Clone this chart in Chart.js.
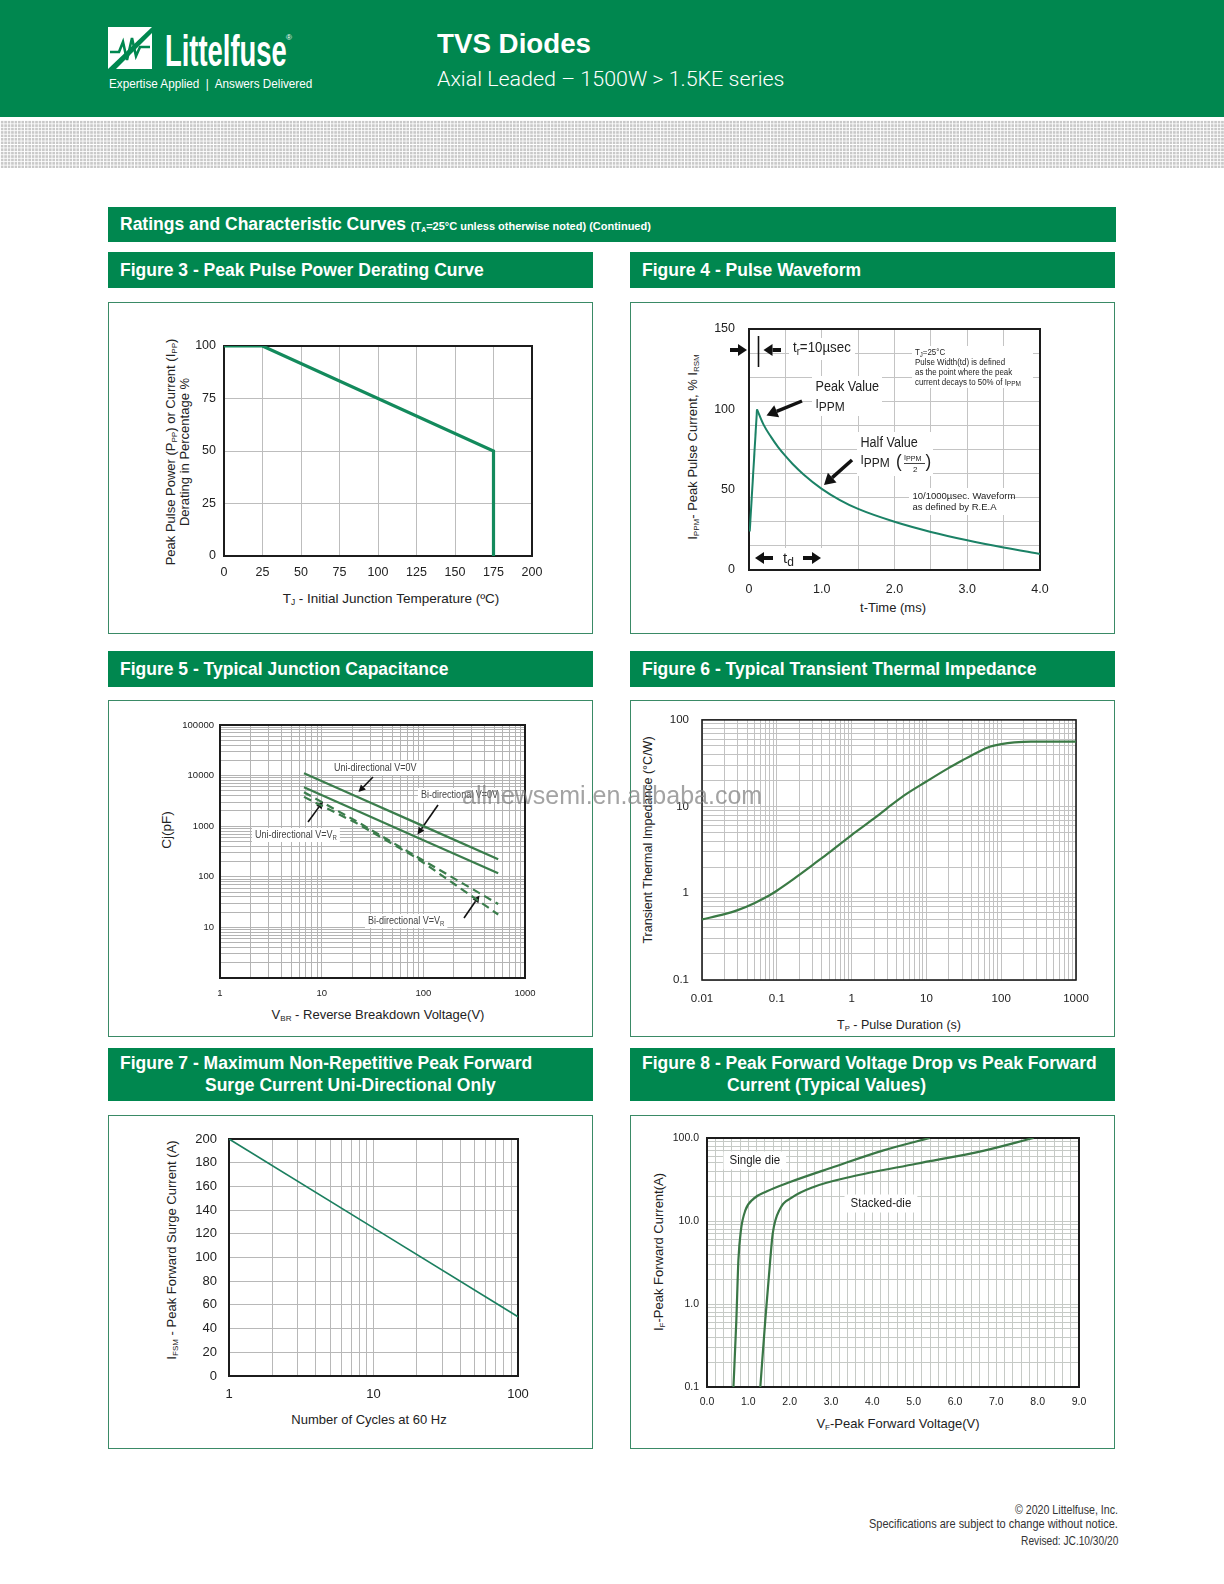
<!DOCTYPE html>
<html>
<head>
<meta charset="utf-8">
<title>TVS Diodes 1.5KE - Ratings and Characteristic Curves</title>
<script src="https://cdn.jsdelivr.net/npm/chart.js@4.4.1/dist/chart.umd.min.js"></script>
<style>
  html, body { margin: 0; padding: 0; }
  body { position: relative; width: 1224px; height: 1584px; overflow: hidden; background: #fff;
         font-family: "Liberation Sans", Arial, sans-serif; color: #222; }
  .abs { position: absolute; white-space: nowrap; }
  .fit { display: inline-block; transform-origin: 0 50%; }
  .fitr { display: inline-block; transform-origin: 100% 50%; }
  .bar { position: absolute; background: #00874f; color: #fff; font-weight: bold; font-size: 17.5px; }
  .figbox { position: absolute; border: 1px solid #3a8a66; box-sizing: border-box; }
  .ytitle { position: absolute; transform: translate(-50%, -50%) rotate(-90deg); white-space: nowrap;
            text-align: center; font-size: 13px; line-height: 14px; color: #222; }
  .xtitle { position: absolute; transform: translate(-50%, -50%); white-space: nowrap; font-size: 13px; color: #222; }
  sub { font-size: 0.62em; vertical-align: -0.3em; line-height: 0; }
  #dots { position: absolute; left: 0; top: 120px; width: 1224px; height: 48px;
          background: linear-gradient(90deg, #fff 1px, transparent 1px), linear-gradient(#fff 1px, transparent 1px), #c9c9c9;
          background-size: 3.45px 3.45px; }
  #watermark { position: absolute; left: 462px; top: 783px; font-size: 25px; line-height: 25px;
               color: rgba(128,128,128,0.72); font-family: Arial, "Liberation Sans", sans-serif; z-index: 5; }
</style>
</head>
<body>

<!-- header -->
<div class="abs" style="left:0;top:0;width:1224px;height:117px;background:#00874f;"></div>
<svg class="abs" style="left:108px;top:27px" width="44" height="42" viewBox="0 0 44 42">
  <rect x="0" y="0" width="44" height="42" fill="#fff"/>
  <path d="M44 0 L44 6 L8 42 L0 42 Z" fill="#00874f"/>
  <polyline points="2,25 11,25 15,15 19,33 24,11 28,29 32,20 42,20" fill="none" stroke="#00874f" stroke-width="2.6"/>
</svg>
<div class="abs" style="left:165px;top:28.7px;font-size:44px;line-height:44px;font-weight:bold;color:#fff;"><span class="fit" data-w="122">Littelfuse</span></div>
<div class="abs" style="left:286px;top:34px;font-size:8px;line-height:8px;color:#fff;">®</div>
<div class="abs" style="left:109px;top:77.7px;font-size:12.5px;line-height:12.5px;color:#fff;"><span class="fit" data-w="203">Expertise Applied&nbsp; |&nbsp; Answers Delivered</span></div>
<div class="abs" style="left:437px;top:31px;font-size:27px;line-height:27px;font-weight:bold;color:#fff;"><span class="fit" data-w="154">TVS Diodes</span></div>
<div class="abs" style="left:437px;top:68.8px;font-size:21px;line-height:21px;font-family:Roboto,'Liberation Sans',sans-serif;font-weight:300;color:#fff;"><span class="fit" data-w="347">Axial Leaded – 1500W &gt; 1.5KE series</span></div>
<div id="dots"></div>

<!-- section bar -->
<div class="bar" style="left:108px;top:207px;width:1008px;height:35px;line-height:35px;">
  <span style="position:absolute;left:12px;"><span style="font-size:17.5px">Ratings and Characteristic Curves</span> <span style="font-size:11px">(T<sub>A</sub>=25°C unless otherwise noted) (Continued)</span></span>
</div>

<!-- figure title bars -->
<div class="bar" style="left:108px;top:252px;width:485px;height:36px;line-height:36px;"><span style="position:absolute;left:12px;">Figure 3 - Peak Pulse Power Derating Curve</span></div>
<div class="bar" style="left:630px;top:252px;width:485px;height:36px;line-height:36px;"><span style="position:absolute;left:12px;">Figure 4 - Pulse Waveform</span></div>
<div class="bar" style="left:108px;top:651px;width:485px;height:36px;line-height:36px;"><span style="position:absolute;left:12px;">Figure 5 - Typical Junction Capacitance</span></div>
<div class="bar" style="left:630px;top:651px;width:485px;height:36px;line-height:36px;"><span style="position:absolute;left:12px;">Figure 6 - Typical Transient Thermal Impedance</span></div>
<div class="bar" style="left:108px;top:1048px;width:485px;height:53px;line-height:22px;"><span style="position:absolute;left:12px;top:4px;">Figure 7 - Maximum Non-Repetitive Peak Forward<br><span style="padding-left:85px">Surge Current Uni-Directional Only</span></span></div>
<div class="bar" style="left:630px;top:1048px;width:485px;height:53px;line-height:22px;"><span style="position:absolute;left:12px;top:4px;">Figure 8 - Peak Forward Voltage Drop vs Peak Forward<br><span style="padding-left:85px">Current (Typical Values)</span></span></div>

<!-- figure frames -->
<div class="figbox" style="left:108px;top:302px;width:485px;height:332px;"></div>
<div class="figbox" style="left:630px;top:302px;width:485px;height:332px;"></div>
<div class="figbox" style="left:108px;top:700px;width:485px;height:337px;"></div>
<div class="figbox" style="left:630px;top:700px;width:485px;height:337px;"></div>
<div class="figbox" style="left:108px;top:1115px;width:485px;height:334px;"></div>
<div class="figbox" style="left:630px;top:1115px;width:485px;height:334px;"></div>

<!-- axis titles -->
<div class="ytitle" style="left:177.5px;top:452px;">Peak Pulse Power (P<sub>PP</sub>) or Current (I<sub>PP</sub>)<br>Derating in Percentage %</div>
<div class="xtitle" style="left:391px;top:598px;font-size:13.5px;">T<sub>J</sub> - Initial Junction Temperature (ºC)</div>

<div class="ytitle" style="left:693px;top:447px;">I<sub>PPM</sub>- Peak Pulse Current, % I<sub>RSM</sub></div>
<div class="xtitle" style="left:893px;top:607px;">t-Time (ms)</div>

<div class="ytitle" style="left:167px;top:830px;font-size:13.5px;">Cj(pF)</div>
<div class="xtitle" style="left:378px;top:1014px;">V<sub>BR</sub> - Reverse Breakdown Voltage(V)</div>

<div class="ytitle" style="left:648px;top:840px;font-size:12.5px;">Transient Thermal Impedance (°C/W)</div>
<div class="xtitle" style="left:899px;top:1025px;font-size:12.5px;">T<sub>P</sub> - Pulse Duration (s)</div>

<div class="ytitle" style="left:172px;top:1250px;">I<sub>FSM</sub> - Peak Forward Surge Current (A)</div>
<div class="xtitle" style="left:369px;top:1419px;">Number of Cycles at 60 Hz</div>

<div class="ytitle" style="left:659px;top:1252px;">I<sub>F</sub>-Peak Forward Current(A)</div>
<div class="xtitle" style="left:898px;top:1423px;">V<sub>F</sub>-Peak Forward Voltage(V)</div>

<!-- footer -->
<div class="abs" style="right:106px;top:1503px;font-size:13px;line-height:13px;color:#333;"><span class="fitr" data-w="103">© 2020 Littelfuse, Inc.</span></div>
<div class="abs" style="right:106px;top:1517px;font-size:13px;line-height:13px;color:#333;"><span class="fitr" data-w="249">Specifications are subject to change without notice.</span></div>
<div class="abs" style="right:106px;top:1533.7px;font-size:13px;line-height:13px;color:#333;"><span class="fitr" data-w="97">Revised: JC.10/30/20</span></div>

<script>
// Figure 3 - peak pulse power derating
const derateTemp = [0, 25, 175, 175];
const deratePct = [100, 100, 50, 0];
const derateTempTicks = [0, 25, 50, 75, 100, 125, 150, 175, 200];
const deratePctTicks = [0, 25, 50, 75, 100];

// Figure 4 - pulse waveform (rise and decay parts)
const riseTime = [0.01, 0.11];
const risePct = [24, 100];
const decayTime = [0.11, 0.2, 0.3, 0.4, 0.5, 0.6, 0.75, 1.0, 1.25, 1.5, 2.0, 2.5, 3.0, 3.5, 4.0];
const decayPct = [100, 90.5, 83, 76.5, 71, 66, 59.5, 50.5, 43.5, 38, 30, 23.7, 18.5, 14, 10];
const pulseTimeTicks = [0, 1, 2, 3, 4];
const pulseTimeGrid = [0, 0.5, 1, 1.5, 2, 2.5, 3, 3.5, 4];
const pulsePctTicks = [0, 50, 100, 150];
const pulsePctGrid = [0, 15, 30, 45, 60, 75, 90, 105, 120, 135, 150];

// Figure 5 - junction capacitance
const vbrVolts = [6.7, 22, 86, 545];
const capUniZero = [11100, 3860, 1150, 222];
const capBiZero = [5880, 2040, 606, 117];
const capUniVr = [4700, 1250, 250, 29];
const capBiVr = [3800, 1150, 235, 18];
const vbrTicks = [1, 10, 100, 1000];
const capTicks = [10, 100, 1000, 10000, 100000];

// Figure 6 - transient thermal impedance
const pulseDur = [0.01, 0.02, 0.03, 0.05, 0.08, 0.1, 0.15, 0.2, 0.3, 0.5, 1, 2, 3, 5, 10, 20, 30, 50, 70, 100, 150, 250, 1000];
const thermZ = [0.5, 0.575, 0.64, 0.77, 0.95, 1.07, 1.36, 1.63, 2.12, 2.95, 4.7, 7.3, 9.6, 13.4, 19.5, 28, 34, 43, 49, 52.5, 55, 56.3, 56.3];
const durTicks = [0.01, 0.1, 1, 10, 100, 1000];
const zthTicks = [0.1, 1, 10, 100];

// Figure 7 - peak forward surge current
const cycles = [1, 10, 100];
const surgeAmps = [200, 125, 50];
const cycleTicks = [1, 10, 100];
const surgeTicks = [0, 20, 40, 60, 80, 100, 120, 140, 160, 180, 200];

// Figure 8 - forward voltage vs forward current
const vfSingle = [0.64, 0.71, 0.76, 0.82, 0.93, 1.13, 1.45, 2.01, 3.06, 4.27, 5.39];
const ifSingle = [0.1, 0.64, 3.4, 7.7, 13.5, 18.6, 22.8, 29.5, 44.7, 71, 100];
const vfStacked = [1.29, 1.41, 1.53, 1.59, 1.77, 2.05, 2.58, 3.46, 5.07, 6.68, 7.9];
const ifStacked = [0.1, 0.64, 3.4, 7.05, 14.1, 19.1, 25.7, 33.9, 49, 70, 100];
const vfTicks = [0, 1, 2, 3, 4, 5, 6, 7, 8, 9];
const ifTicks = [0.1, 1, 10, 100];

const FONT = "'Liberation Sans', Arial, sans-serif";
Chart.defaults.font.family = FONT;
Chart.defaults.color = '#222';

// grid positions for log axes (1..9 per decade) and plain steps
function logGrid(lo, hi) {
  const out = [];
  for (let e = Math.floor(Math.log10(lo)); e <= Math.ceil(Math.log10(hi)); e++) {
    for (let m = 1; m <= 9; m++) {
      const v = Number((m * Math.pow(10, e)).toPrecision(6));
      if (v >= lo && v <= hi) out.push(v);
    }
  }
  return out;
}
function stepGrid(lo, hi, step) {
  const out = [];
  for (let i = 0; lo + i * step <= hi + 1e-9; i++) out.push(Number((lo + i * step).toFixed(6)));
  return out;
}

function ax(o) {
  const labels = new Set(o.labels || []);
  const fmt = o.fmt || (v => String(v));
  return {
    type: o.type || 'linear',
    position: o.position,
    min: o.min, max: o.max,
    fitSize: o.fitSize,
    afterBuildTicks: s => { s.ticks = o.grid.map(v => ({ value: v })); },
    grid: { display: o.showGrid !== false, color: o.gridColor || '#c4c4c4', lineWidth: 1, drawTicks: false },
    border: { display: false },
    ticks: {
      display: !!o.labels, autoSkip: false, maxRotation: 0, minRotation: 0,
      padding: o.pad, font: { size: o.size }, color: '#222',
      callback: v => labels.has(v) ? fmt(v) : ''
    }
  };
}

function series(xs, ys, style) {
  return Object.assign({
    data: xs.map((x, i) => ({ x, y: ys[i] })),
    pointRadius: 0, fill: false, tension: 0, borderWidth: 2
  }, style);
}

function arrow(ctx, x1, y1, x2, y2, w, head, half) {
  const a = Math.atan2(y2 - y1, x2 - x1);
  const hx = x2 - head * Math.cos(a), hy = y2 - head * Math.sin(a);
  ctx.lineWidth = w;
  ctx.beginPath(); ctx.moveTo(x1, y1); ctx.lineTo(hx, hy); ctx.stroke();
  ctx.beginPath(); ctx.moveTo(x2, y2);
  ctx.lineTo(hx + half * Math.sin(a), hy - half * Math.cos(a));
  ctx.lineTo(hx - half * Math.sin(a), hy + half * Math.cos(a));
  ctx.closePath(); ctx.fill();
}

// parts: [text, size, dy]
function richText(ctx, x, y, parts, o = {}) {
  const sx = o.sx || 1;
  ctx.save();
  ctx.textBaseline = 'middle'; ctx.textAlign = 'left';
  const widths = parts.map(([t, s]) => { ctx.font = `${s}px ${FONT}`; return ctx.measureText(t).width; });
  const total = widths.reduce((p, c) => p + c, 0) * sx;
  if (o.bg) {
    ctx.fillStyle = '#fff';
    ctx.fillRect(x - o.bg[0], y - o.bg[1], total + 2 * o.bg[0], 2 * o.bg[1]);
  }
  ctx.fillStyle = o.color || '#222';
  ctx.translate(x, y); ctx.scale(sx, 1);
  let cx = 0;
  parts.forEach(([t, s, dy], i) => {
    ctx.font = `${s}px ${FONT}`;
    ctx.fillText(t, cx, dy || 0);
    cx += widths[i];
  });
  ctx.restore();
  return total;
}

function makeFig(fig, scales, datasets, notes, frameW) {
  const { box, area } = fig;
  const w = box.r - box.l, h = box.b - box.t;
  const cv = document.createElement('canvas');
  cv.width = w; cv.height = h;
  cv.style.cssText = `position:absolute;left:${box.l}px;top:${box.t}px;width:${w}px;height:${h}px;`;
  document.body.appendChild(cv);
  Object.values(scales).forEach(sc => {
    const size = sc.fitSize !== undefined ? sc.fitSize : (sc.position === 'left' ? area.l - box.l : box.b - area.b);
    sc.afterFit = s => { if (sc.position === 'left') s.width = size; else s.height = size; };
  });
  return new Chart(cv, {
    type: 'line',
    data: { datasets },
    options: {
      responsive: false, animation: false, events: [],
      layout: { padding: { left: 0, bottom: 0, top: area.t - box.t, right: box.r - area.r } },
      plugins: { legend: { display: false }, tooltip: { enabled: false } },
      scales
    },
    plugins: [{
      id: 'frameAndNotes',
      beforeDatasetsDraw(chart) {
        const a = chart.chartArea, ctx = chart.ctx;
        ctx.save();
        ctx.strokeStyle = '#1c1c1c'; ctx.lineWidth = frameW || 2;
        ctx.strokeRect(a.left, a.top, a.right - a.left, a.bottom - a.top);
        ctx.restore();
        if (notes) {
          ctx.save(); ctx.translate(a.left, a.top);
          notes(ctx);
          ctx.restore();
        }
      }
    }]
  });
}

const fig3 = { box: { l: 108, t: 302, r: 593, b: 634 }, area: { l: 224, t: 346, r: 532, b: 556 } };
const fig4 = { box: { l: 630, t: 302, r: 1115, b: 634 }, area: { l: 749, t: 329, r: 1040, b: 570 } };
const fig5 = { box: { l: 108, t: 700, r: 593, b: 1037 }, area: { l: 220, t: 725, r: 525, b: 978 } };
const fig6 = { box: { l: 630, t: 700, r: 1115, b: 1037 }, area: { l: 702, t: 716, r: 1076, b: 980 } };
const fig7 = { box: { l: 108, t: 1115, r: 593, b: 1449 }, area: { l: 229, t: 1139, r: 518, b: 1376 } };
const fig8 = { box: { l: 630, t: 1115, r: 1115, b: 1449 }, area: { l: 707, t: 1138, r: 1079, b: 1387 } };

// ---------- Figure 3 ----------
makeFig(fig3, {
  x: ax({ position: 'bottom', min: 0, max: 200, grid: derateTempTicks, labels: derateTempTicks, size: 12.5, pad: 9, gridColor: '#bdbdbd' }),
  y: ax({ position: 'left', min: 0, max: 100, grid: deratePctTicks, labels: deratePctTicks, size: 12.5, pad: 8, gridColor: '#bdbdbd' })
}, [
  series(derateTemp, deratePct, { borderColor: '#138a5c', borderWidth: 3.2 })
]);

// ---------- Figure 4 ----------
function pulseNotes(ctx) {
  ctx.fillStyle = '#fff';
  [[40, 9, 66, 22], [163, 17, 121, 42], [63, 47, 70, 40], [108, 103, 76, 44], [160, 159, 101, 27], [2, 219, 74, 21]]
    .forEach(r => ctx.fillRect(r[0], r[1], r[2], r[3]));
  ctx.fillStyle = '#111'; ctx.strokeStyle = '#111';
  // t_r markers
  arrow(ctx, -19, 21, -2, 21, 4, 9, 6);
  ctx.lineWidth = 1.6; ctx.beginPath(); ctx.moveTo(9.5, 7); ctx.lineTo(9.5, 38); ctx.stroke();
  arrow(ctx, 32, 21, 14.5, 21, 4, 9, 6);
  richText(ctx, 44, 19, [['t', 14], ['r', 10, 4], ['=10µsec', 14]], { sx: 0.95 });
  // t_d markers
  arrow(ctx, 24, 229, 6, 229, 4, 9, 6);
  richText(ctx, 34, 230, [['t', 15], ['d', 12, 4]]);
  arrow(ctx, 54, 229, 72, 229, 4, 9, 6);
  // definition notes
  richText(ctx, 166, 24, [['T', 8.5], ['J', 6.5, 2], ['=25°C', 8.5]], { sx: 0.93 });
  richText(ctx, 166, 33.5, [['Pulse Width(td) is defined', 8.5]], { sx: 0.93 });
  richText(ctx, 166, 43.5, [['as the point where the peak', 8.5]], { sx: 0.93 });
  richText(ctx, 166, 53.5, [['current decays to 50% of I', 8.5], ['PPM', 7, 2]], { sx: 0.93 });
  // peak value
  richText(ctx, 66.5, 58, [['Peak Value', 14]], { sx: 0.9 });
  richText(ctx, 66.5, 75, [['I', 13], ['PPM', 13, 3]], { sx: 0.92 });
  arrow(ctx, 53, 72, 17.5, 86.5, 3.5, 11, 6.5);
  // half value
  richText(ctx, 111.5, 114, [['Half Value', 14]], { sx: 0.9 });
  richText(ctx, 111.5, 131, [['I', 13], ['PPM', 13, 3]], { sx: 0.92 });
  richText(ctx, 147, 133, [['(', 19]], { sx: 0.9 });
  richText(ctx, 155, 129, [['I', 7.5], ['PPM', 7.5, 1]], { sx: 0.95 });
  ctx.lineWidth = 0.8; ctx.beginPath(); ctx.moveTo(155, 134.5); ctx.lineTo(176, 134.5); ctx.stroke();
  richText(ctx, 164, 141, [['2', 8]]);
  richText(ctx, 176.5, 133, [[')', 19]], { sx: 0.9 });
  arrow(ctx, 103, 131, 75, 156, 3.5, 11, 6.5);
  // waveform note
  richText(ctx, 163.5, 167.5, [['10/1000µsec. Waveform', 9.5]]);
  richText(ctx, 163.5, 178.5, [['as defined by R.E.A', 9.5]]);
}
makeFig(fig4, {
  x: ax({ position: 'bottom', min: 0, max: 4, grid: pulseTimeGrid, labels: pulseTimeTicks, fmt: v => v === 0 ? '0' : v.toFixed(1), size: 12.5, pad: 12 }),
  y: ax({ position: 'left', min: 0, max: 150, grid: pulsePctGrid, fitSize: 0 }),
  yl: ax({ position: 'left', min: 0, max: 150, grid: pulsePctTicks, labels: pulsePctTicks, showGrid: false, size: 12.5, pad: 14 })
}, [
  series(riseTime, risePct, { borderColor: '#1b8266', borderWidth: 2, xAxisID: 'x', yAxisID: 'y' }),
  series(decayTime, decayPct, { borderColor: '#1b8266', borderWidth: 2, xAxisID: 'x', yAxisID: 'y', cubicInterpolationMode: 'monotone' })
], pulseNotes);

// ---------- Figure 5 ----------
function capNotes(ctx) {
  const o = { sx: 0.86, color: '#444', bg: [3, 7] };
  richText(ctx, 114, 43, [['Uni-directional V=0V', 10.5]], o);
  richText(ctx, 201, 70, [['Bi-directional V=0V', 10.5]], o);
  richText(ctx, 35, 110, [['Uni-directional V=V', 10.5], ['R', 7, 3]], o);
  richText(ctx, 148, 196, [['Bi-directional V=V', 10.5], ['R', 7, 3]], o);
  ctx.fillStyle = '#111'; ctx.strokeStyle = '#111';
  arrow(ctx, 153, 52, 138.5, 67, 1.6, 7, 3.5);
  arrow(ctx, 218, 80, 197.5, 109.5, 1.6, 7, 3.5);
  arrow(ctx, 88, 97, 103, 76.5, 1.6, 7, 3.5);
  arrow(ctx, 244, 193, 259.5, 170.5, 1.6, 7, 3.5);
}
const capLine = { borderColor: '#3b7d4c', borderWidth: 2.2 };
makeFig(fig5, {
  x: ax({ type: 'logarithmic', position: 'bottom', min: 1, max: 1000, grid: logGrid(1, 1000), labels: vbrTicks, size: 9.5, pad: 10, gridColor: '#b4b4b4' }),
  y: ax({ type: 'logarithmic', position: 'left', min: 1, max: 100000, grid: logGrid(1, 100000), labels: capTicks, size: 9.5, pad: 6, gridColor: '#b4b4b4' })
}, [
  series(vbrVolts, capUniZero, capLine),
  series(vbrVolts, capBiZero, capLine),
  series(vbrVolts, capUniVr, Object.assign({ borderDash: [8, 5] }, capLine)),
  series(vbrVolts, capBiVr, Object.assign({ borderDash: [8, 5] }, capLine))
], capNotes);

// ---------- Figure 6 ----------
makeFig(fig6, {
  x: ax({ type: 'logarithmic', position: 'bottom', min: 0.01, max: 1000, grid: logGrid(0.01, 1000), labels: durTicks, size: 11.5, pad: 12, gridColor: '#c2c2c2' }),
  y: ax({ type: 'logarithmic', position: 'left', min: 0.1, max: 100, grid: logGrid(0.1, 100), labels: zthTicks, size: 11.5, pad: 13, gridColor: '#c2c2c2' })
}, [
  series(pulseDur, thermZ, { borderColor: '#3b7a45', borderWidth: 2.2, cubicInterpolationMode: 'monotone' })
], null, 1.6);

// ---------- Figure 7 ----------
makeFig(fig7, {
  x: ax({ type: 'logarithmic', position: 'bottom', min: 1, max: 100, grid: logGrid(1, 100), labels: cycleTicks, size: 13, pad: 11, gridColor: '#b8b8b8' }),
  y: ax({ position: 'left', min: 0, max: 200, grid: surgeTicks, labels: surgeTicks, size: 13, pad: 12, gridColor: '#b8b8b8' })
}, [
  series(cycles, surgeAmps, { borderColor: '#1b7f5f', borderWidth: 1.7 })
]);

// ---------- Figure 8 ----------
function vfNotes(ctx) {
  richText(ctx, 22.5, 22.5, [['Single die', 12]], { sx: 0.96, bg: [6, 9] });
  richText(ctx, 143.5, 65.5, [['Stacked-die', 12]], { sx: 0.96, bg: [6, 9] });
}
const vfLine = { borderColor: '#3a7746', borderWidth: 2.2, cubicInterpolationMode: 'monotone' };
makeFig(fig8, {
  x: ax({ position: 'bottom', min: 0, max: 9, grid: stepGrid(0, 9, 0.2), labels: vfTicks, fmt: v => v.toFixed(1), size: 10.5, pad: 9, gridColor: '#c6cac6' }),
  y: ax({ type: 'logarithmic', position: 'left', min: 0.1, max: 100, grid: logGrid(0.1, 100), labels: ifTicks, fmt: v => v < 1 ? '0.1' : v.toFixed(1), size: 10.5, pad: 8, gridColor: '#c6cac6' })
}, [
  series(vfSingle, ifSingle, vfLine),
  series(vfStacked, ifStacked, vfLine)
], vfNotes);

// squeeze condensed header/footer texts to their widths
document.fonts.ready.then(() => {
  document.querySelectorAll('.fit, .fitr').forEach(el => {
    const w = Number(el.dataset.w);
    el.style.transform = `scaleX(${w / el.offsetWidth})`;
  });
});
</script>

<div id="watermark">allnewsemi.en.alibaba.com</div>
</body>
</html>
